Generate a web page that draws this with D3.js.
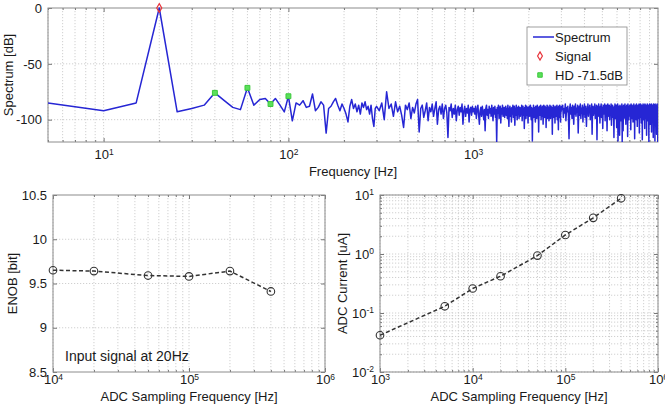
<!DOCTYPE html>
<html>
<head>
<meta charset="utf-8">
<script src="https://d3js.org/d3.v7.min.js"></script>
<style>
  body { margin: 0; background: #fff; }
  svg text { font-family: "Liberation Sans", Arial, sans-serif; fill: #1a1a1a; }
</style>
</head>
<body>
<svg id="chart" width="665" height="411"></svg>
<script>
// ---- spectrum data (dB), in frequency segments [start, step] ----
var specSegA = [5, 5];   // 5 .. 300 Hz
var specValsA = [-85,-92,-85,0,-93,-90,-87,-76,-83,-89,-91,-71.5,-87,-82,-81,-86,-81,-87,-93,-79,
  -101,-85,-87,-83,-89,-88,-77,-92,-89,-84,-87,-112,-90,-88,-84,-81,-87,-92,-86,-90,
  -95,-102,-88,-82,-90,-86,-93,-87,-95,-85,-89,-84,-91,-88,-95,-87,-99,-106,-90,-88];
var specSegB = [310, 10]; // 310 .. 1000 Hz
var specValsB = [-92,-85,-100,-75,-90,-86,-97,-84,-93,-88,-96,-107,-87,-91,-85,-99,-89,-94,-86,-82,
  -111,-90,-87,-98,-92,-85,-101,-89,-93,-86,-97,-90,-84,-104,-91,-88,-95,-86,-99,-90,
  -87,-94,-116,-89,-92,-86,-98,-90,-95,-87,-101,-91,-88,-96,-89,-93,-86,-104,-92,-88,
  -97,-90,-94,-87,-102,-91,-89,-96,-88,-93];
var specSegC = [1010, 10]; // 1010 .. 3000 Hz
var specValsC = [-90,-95,-88,-99,-91,-87,-96,-104,-92,-89,-97,-88,-93,-100,-91,-110,-90,-87,-96,-91,
  -99,-88,-94,-90,-97,-87,-93,-101,-89,-95,-88,-98,-91,-120,-89,-94,-87,-99,-92,-88,
  -103,-90,-95,-87,-97,-91,-89,-98,-93,-88,-96,-90,-99,-87,-94,-106,-91,-88,-97,-90,
  -102,-89,-95,-87,-98,-92,-88,-105,-90,-96,-87,-93,-100,-89,-95,-88,-99,-92,-89,-97,
  -90,-94,-87,-101,-91,-88,-96,-90,-108,-89,-94,-87,-99,-92,-88,-96,-90,-103,-89,-94,
  -88,-97,-91,-87,-95,-100,-89,-93,-119,-90,-96,-87,-98,-91,-89,-95,-102,-88,-94,-90,
  -99,-87,-93,-97,-89,-111,-91,-88,-96,-90,-94,-87,-100,-92,-89,-97,-88,-95,-104,-90,
  -87,-93,-98,-91,-88,-96,-90,-107,-89,-94,-87,-99,-92,-88,-95,-90,-101,-89,-96,-87,
  -93,-99,-90,-88,-97,-91,-94,-113,-89,-95,-87,-98,-92,-88,-96,-90,-103,-89,-94,-88,
  -97,-90,-93,-87,-100,-91,-89,-96,-109,-88,-94,-90,-98,-87,-95,-91,-102,-89,-93,-88];
var specSegD = [3025, 25]; // 3025 .. 10000 Hz
var specValsD = [-91,-87,-98,-90,-94,-86,-101,-89,-93,-88,-97,-117,-90,-86,-95,-89,-99,-87,-92,-104,
  -88,-95,-86,-97,-90,-93,-87,-112,-91,-88,-96,-86,-99,-90,-94,-87,-102,-89,-95,-86,
  -98,-91,-88,-106,-90,-94,-86,-97,-89,-93,-87,-100,-90,-95,-86,-113,-91,-88,-96,-89,
  -94,-86,-99,-90,-93,-87,-118,-91,-88,-97,-86,-95,-90,-103,-88,-94,-86,-98,-91,-89,
  -108,-87,-95,-90,-93,-86,-101,-89,-96,-87,-92,-110,-90,-86,-97,-89,-94,-87,-100,-91,
  -88,-96,-86,-105,-90,-94,-87,-98,-89,-93,-116,-88,-95,-86,-99,-90,-92,-87,-107,-89,
  -96,-86,-119,-91,-88,-97,-90,-114,-87,-94,-89,-101,-88,-95,-86,-120,-91,-88,-110,-93,
  -87,-99,-90,-95,-86,-98,-91,-104,-88,-93,-87,-96,-90,-115,-86,-94,-89,-100,-88,-95,
  -91,-87,-97,-90,-109,-86,-93,-89,-99,-87,-95,-91,-102,-88,-94,-86,-98,-90,-117,-89,
  -93,-87,-96,-90,-100,-86,-95,-89,-106,-88,-94,-87,-99,-91,-92,-86,-112,-90,-96,-88,
  -98,-86,-93,-90,-103,-87,-95,-89,-118,-88,-94,-86,-97,-91,-100,-87,-93,-89,-108,-86,
  -95,-90,-99,-87,-94,-88,-114,-91,-96,-86,-101,-89,-93,-87,-98,-90,-120,-88,-95,-86,
  -97,-91,-104,-87,-94,-89,-99,-86,-111,-90,-96,-88,-93,-87,-101,-91,-116,-86,-95,-89,
  -98,-87,-94,-90,-119,-86,-97,-88,-103,-91,-95,-87,-113,-89,-99,-86,-96,-90,-120,-92];

var signalF = [20], signalDb = [0];
var hdF = [40, 60, 80, 100], hdDb = [-76, -71.5, -86, -79];
var legendLabels = ["Spectrum", "Signal", "HD -71.5dB"];

// ---- ENOB vs sampling frequency ----
var enobFs = [1e4, 2e4, 5e4, 1e5, 2e5, 4e5];
var enobBits = [9.65, 9.64, 9.59, 9.58, 9.64, 9.41];

// ---- ADC current vs sampling frequency ----
var curFs = [1e3, 5e3, 1e4, 2e4, 5e4, 1e5, 2e5, 4e5];
var curUA = [0.042, 0.13, 0.26, 0.42, 0.94, 2.1, 4.1, 8.8];

var spectrum = [];
[[specSegA, specValsA], [specSegB, specValsB], [specSegC, specValsC], [specSegD, specValsD]]
  .forEach(function(s) {
    s[1].forEach(function(v, i) { spectrum.push({f: s[0][0] + i * s[0][1], v: v}); });
  });

var svg = d3.select("#chart");
var gridCol = "#c4c4c4", boxCol = "#8c8c8c";

function isDecade(d) { var e = Math.log10(d); return Math.abs(e - Math.round(e)) < 1e-9; }
function logMinor(x) { return x.ticks().filter(function(d) { return !isDecade(d); }); }
function logMajor(x) { return x.ticks().filter(isDecade); }
function supLabels(sel) {
  sel.selectAll(".tick text").each(function(d) {
    var t = d3.select(this);
    t.text("10");
    t.append("tspan").attr("dy", "-0.55em").attr("font-size", "8.5px")
      .text(Math.round(Math.log10(d)));
  });
}

function panel(id, x, y, o) {
  var g = svg.append("g").attr("id", id);
  var x0 = x.range()[0], x1 = x.range()[1], y0 = y.range()[1], y1 = y.range()[0];
  var xg = x.ticks();
  var yg = o.yGrid;

  g.append("rect").attr("x", x0).attr("y", y0).attr("width", x1 - x0).attr("height", y1 - y0)
    .attr("fill", "#fff");

  var grid = g.append("g").attr("stroke", gridCol).attr("stroke-width", 0.8)
    .attr("stroke-dasharray", "1.2,1.8");
  grid.selectAll(".gx").data(xg).enter().append("line")
    .attr("x1", x).attr("x2", x).attr("y1", y0).attr("y2", y1);
  grid.selectAll(".gy").data(yg).enter().append("line")
    .attr("y1", y).attr("y2", y).attr("x1", x0).attr("x2", x1);

  // ticks on all four sides, pointing inward
  var xMaj = logMajor(x).filter(function(d) { return !o.dropLastX || x(d) < x1 - 2; });
  var bot = g.append("g").attr("transform", "translate(0," + y1 + ")")
    .call(d3.axisBottom(x).tickValues(xMaj).tickSizeInner(-4).tickSizeOuter(0).tickPadding(o.xPad));
  supLabels(bot);
  g.append("g").attr("transform", "translate(0," + y0 + ")")
    .call(d3.axisTop(x).tickValues(xMaj).tickSizeInner(-4).tickSizeOuter(0).tickFormat(""));
  g.append("g").attr("transform", "translate(0," + y1 + ")")
    .call(d3.axisBottom(x).tickValues(logMinor(x)).tickSizeInner(-2).tickSizeOuter(0).tickFormat(""));
  g.append("g").attr("transform", "translate(0," + y0 + ")")
    .call(d3.axisTop(x).tickValues(logMinor(x)).tickSizeInner(-2).tickSizeOuter(0).tickFormat(""));

  var yMaj = o.yLog ? logMajor(y) : o.yTicks;
  var left = g.append("g").attr("transform", "translate(" + x0 + ",0)")
    .call(d3.axisLeft(y).tickValues(yMaj).tickSizeInner(-4).tickSizeOuter(0).tickPadding(6)
      .tickFormat(function(d) { return String(d); }));
  if (o.yLog) supLabels(left);
  g.append("g").attr("transform", "translate(" + x1 + ",0)")
    .call(d3.axisRight(y).tickValues(yMaj).tickSizeInner(-4).tickSizeOuter(0).tickFormat(""));
  if (o.yLog) {
    g.append("g").attr("transform", "translate(" + x0 + ",0)")
      .call(d3.axisLeft(y).tickValues(logMinor(y)).tickSizeInner(-2).tickSizeOuter(0).tickFormat(""));
    g.append("g").attr("transform", "translate(" + x1 + ",0)")
      .call(d3.axisRight(y).tickValues(logMinor(y)).tickSizeInner(-2).tickSizeOuter(0).tickFormat(""));
  }
  g.selectAll(".domain").remove();
  g.selectAll(".tick line").attr("stroke", "#777");
  g.selectAll(".tick text").attr("font-size", "13px").attr("fill", "#1a1a1a")
    .attr("font-family", "Liberation Sans, Arial, sans-serif");

  g.append("rect").attr("x", x0).attr("y", y0).attr("width", x1 - x0).attr("height", y1 - y0)
    .attr("fill", "none").attr("stroke", boxCol).attr("stroke-width", 1);

  g.append("text").attr("x", (x0 + x1) / 2).attr("y", o.xLabelY).attr("text-anchor", "middle")
    .attr("font-size", "13px").text(o.xLabel);
  g.append("text").attr("transform", "translate(" + o.yLabelX + "," + (y0 + y1) / 2 + ") rotate(-90)")
    .attr("text-anchor", "middle").attr("font-size", "13px").text(o.yLabel);
  return g;
}

// ---- top: spectrum ----
var xT = d3.scaleLog().domain([5, 10000]).range([48, 658]);
var yT = d3.scaleLinear().domain([-120, 0]).range([142, 8]);
var gT = panel("spec", xT, yT, {yTicks: [-100, -50, 0], yGrid: [-100, -50], xPad: 8, dropLastX: true,
  xLabel: "Frequency [Hz]", xLabelY: 176, yLabel: "Spectrum [dB]", yLabelX: 13});

svg.append("clipPath").attr("id", "clipT").append("rect")
  .attr("x", 48).attr("y", 0).attr("width", 610).attr("height", 142);
gT.append("path").datum(spectrum).attr("clip-path", "url(#clipT)")
  .attr("fill", "none").attr("stroke", "#2626d4").attr("stroke-width", 1.5)
  .attr("stroke-linejoin", "round")
  .attr("d", d3.line().x(function(d) { return xT(d.f); }).y(function(d) { return yT(d.v); }));

gT.selectAll(".sig").data(signalF).enter().append("path")
  .attr("transform", function(d, i) { return "translate(" + xT(d) + "," + yT(signalDb[i]) + ")"; })
  .attr("d", d3.symbol(d3.symbolDiamond, 22)).attr("fill", "none")
  .attr("stroke", "#e8333a").attr("stroke-width", 1.2);
gT.selectAll(".hd").data(hdF).enter().append("path")
  .attr("transform", function(d, i) { return "translate(" + xT(d) + "," + yT(hdDb[i]) + ")"; })
  .attr("d", d3.symbol(d3.symbolSquare, 24)).attr("fill", "#5be05b")
  .attr("stroke", "#3cc83c").attr("stroke-width", 1);

// legend
var lg = gT.append("g").attr("transform", "translate(527,27)");
lg.append("rect").attr("width", 100).attr("height", 58).attr("fill", "#fff")
  .attr("stroke", "#888").attr("stroke-width", 0.8);
lg.append("line").attr("x1", 6).attr("x2", 27).attr("y1", 10).attr("y2", 10)
  .attr("stroke", "#2626d4").attr("stroke-width", 1.5);
lg.append("path").attr("transform", "translate(13,29)").attr("d", d3.symbol(d3.symbolDiamond, 20))
  .attr("fill", "none").attr("stroke", "#e8333a").attr("stroke-width", 1.2);
lg.append("path").attr("transform", "translate(13,48)").attr("d", d3.symbol(d3.symbolSquare, 20))
  .attr("fill", "#5be05b").attr("stroke", "#3cc83c");
lg.selectAll(".lt").data(legendLabels).enter().append("text")
  .attr("x", 28).attr("y", function(d, i) { return 14.5 + i * 19; })
  .attr("font-size", "13px").text(function(d) { return d; });

// ---- bottom left: ENOB ----
var xL = d3.scaleLog().domain([1e4, 1e6]).range([53, 325]);
var yL = d3.scaleLinear().domain([8.5, 10.5]).range([372, 195]);
var gL = panel("enob", xL, yL, {yTicks: [8.5, 9, 9.5, 10, 10.5], yGrid: [9, 9.5, 10], xPad: 3,
  xLabel: "ADC Sampling Frequency [Hz]", xLabelY: 401, yLabel: "ENOB [bit]", yLabelX: 17});
var lineL = d3.line().x(function(d) { return xL(d); }).y(function(d, i) { return yL(enobBits[i]); });
gL.append("path").datum(enobFs).attr("d", lineL).attr("fill", "none")
  .attr("stroke", "#333").attr("stroke-width", 1.5).attr("stroke-dasharray", "4,2.5");
gL.selectAll(".pt").data(enobFs).enter().append("circle")
  .attr("cx", function(d) { return xL(d); }).attr("cy", function(d, i) { return yL(enobBits[i]); })
  .attr("r", 3.8).attr("fill", "none").attr("stroke", "#333").attr("stroke-width", 1.1);
gL.append("text").attr("x", 65).attr("y", 361)
  .attr("font-family", "Liberation Sans Narrow, Arial Narrow, DejaVu Sans Condensed, sans-serif")
  .attr("font-size", "14px").text("Input signal at 20Hz");

// ---- bottom right: ADC current ----
var xR = d3.scaleLog().domain([1e3, 1e6]).range([380, 658]);
var yR = d3.scaleLog().domain([1e-2, 1e1]).range([372, 195]);
var gR = panel("cur", xR, yR, {yLog: true, yGrid: yR.ticks(), xPad: 3,
  xLabel: "ADC Sampling Frequency [Hz]", xLabelY: 401, yLabel: "ADC Current [uA]", yLabelX: 347});
var lineR = d3.line().x(function(d) { return xR(d); }).y(function(d, i) { return yR(curUA[i]); });
gR.append("path").datum(curFs).attr("d", lineR).attr("fill", "none")
  .attr("stroke", "#333").attr("stroke-width", 1.5).attr("stroke-dasharray", "4,2.5");
gR.selectAll(".pt").data(curFs).enter().append("circle")
  .attr("cx", function(d) { return xR(d); }).attr("cy", function(d, i) { return yR(curUA[i]); })
  .attr("r", 3.8).attr("fill", "none").attr("stroke", "#333").attr("stroke-width", 1.1);
</script>
</body>
</html>
